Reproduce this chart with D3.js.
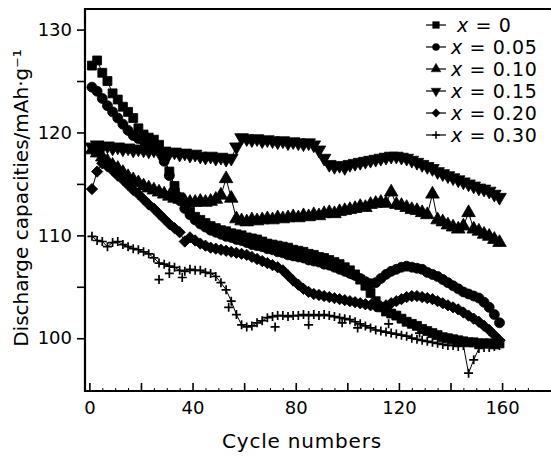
<!DOCTYPE html>
<html>
<head>
<meta charset="utf-8">
<script src="https://cdn.jsdelivr.net/npm/d3@7"></script>
<style>
  body { margin: 0; background: #fff; }
  svg { display: block; }
  text { font-family: "DejaVu Sans", sans-serif; fill: #000; }
</style>
</head>
<body>
<svg id="chart" width="551" height="459"></svg>
<script>
// cycle numbers (every second cycle)
const cycles = [1,3,5,7,9,11,13,15,17,19,
    21,23,25,27,29,31,33,35,37,39,
    41,43,45,47,49,51,53,55,57,59,
    61,63,65,67,69,71,73,75,77,79,
    81,83,85,87,89,91,93,95,97,99,
    101,103,105,107,109,111,113,115,117,119,
    121,123,125,127,129,131,133,135,137,139,
    141,143,145,147,149,151,153,155,157,159];

// x = 0 (squares)
const capX000 = [126.5,127.0,125.8,125.0,123.8,123.2,122.5,122.0,121.4,120.4,
    119.8,119.5,119.3,118.8,117.6,116.2,114.8,113.7,112.9,112.3,
    111.8,111.5,111.2,110.9,110.7,110.5,110.4,110.2,110.1,110.0,
    109.8,109.7,109.6,109.4,109.2,109.1,109.0,108.9,108.8,108.6,
    108.5,108.4,108.2,108.1,107.9,107.8,107.6,107.4,107.2,106.9,
    106.6,106.2,105.7,105.1,104.4,103.6,103.0,102.6,102.4,102.2,
    101.9,101.6,101.4,101.2,100.9,100.7,100.5,100.3,100.1,100.0,
    99.9,99.8,99.7,99.6,99.6,99.5,99.5,99.5,99.4,99.5];

// x = 0.05 (circles)
const capX005 = [124.4,124.0,123.3,122.6,122.0,121.4,120.8,120.2,119.7,119.4,
    119.2,119.0,118.8,118.4,117.2,115.8,114.4,113.4,112.6,112.0,
    111.5,111.1,110.8,110.5,110.3,110.1,109.9,109.8,109.6,109.5,
    109.3,109.1,109.0,108.9,108.7,108.6,108.4,108.3,108.1,108.0,
    107.9,107.8,107.6,107.5,107.4,107.2,107.1,106.9,106.7,106.5,
    106.3,106.1,105.8,105.5,105.3,105.4,105.8,106.2,106.5,106.7,
    106.9,107.0,106.9,106.8,106.7,106.4,106.2,106.0,105.7,105.4,
    105.1,104.8,104.5,104.3,104.1,103.9,103.5,103.0,102.3,101.5];

// x = 0.10 (triangles)
const capX010 = [118.3,118.0,117.6,117.2,116.8,116.5,116.1,115.7,115.4,115.1,
    114.8,114.6,114.4,114.2,114.0,113.8,113.6,113.5,113.3,113.2,
    113.2,113.3,113.2,113.3,113.5,113.9,115.5,113.6,111.6,111.4,
    111.3,111.5,111.4,111.5,111.6,111.5,111.7,111.6,111.7,111.8,
    111.7,111.9,111.8,112.0,111.9,112.1,112.2,112.1,112.3,112.4,
    112.5,112.6,112.8,112.7,113.0,113.1,113.2,113.1,114.2,113.0,
    112.9,112.7,112.5,112.4,112.2,112.0,114.0,111.5,111.3,111.0,
    110.8,110.6,110.9,112.2,110.6,110.4,110.1,109.9,109.6,109.3];

// x = 0.15 (inverted triangles)
const capX015 = [118.6,118.8,118.6,118.7,118.5,118.6,118.4,118.5,118.3,118.4,
    118.3,118.2,118.3,118.1,118.2,118.0,118.1,117.9,118.0,117.8,
    117.9,117.7,117.6,117.7,117.5,117.6,117.4,117.5,118.6,119.5,
    119.4,119.3,119.4,119.2,119.3,119.2,119.1,119.2,119.0,119.1,
    119.0,118.9,119.0,118.8,118.3,117.5,116.9,116.7,116.8,116.6,
    116.9,117.0,117.1,117.2,117.3,117.4,117.5,117.6,117.7,117.7,
    117.6,117.5,117.3,117.1,116.9,116.7,116.5,116.2,116.0,115.8,
    115.6,115.4,115.2,115.0,114.8,114.6,114.5,114.3,114.0,113.7];

// x = 0.20 (diamonds)
const capX020 = [114.5,116.2,117.0,116.7,116.3,115.8,115.4,114.9,114.4,114.0,
    113.5,113.0,112.6,112.1,111.6,111.1,110.7,110.3,109.4,109.8,
    109.5,109.2,109.0,108.8,108.7,108.6,108.5,108.4,108.3,108.2,
    108.1,107.9,107.7,107.5,107.3,107.1,106.9,106.6,106.1,105.6,
    105.2,104.8,104.5,104.3,104.2,104.1,104.0,103.9,103.8,103.7,
    103.6,103.5,103.4,103.3,103.2,103.1,103.1,103.2,103.4,103.6,
    103.8,104.0,104.1,104.1,104.0,103.9,103.8,103.6,103.4,103.2,
    103.0,102.8,102.5,102.2,101.9,101.6,101.2,100.8,100.3,99.8];

// x = 0.30 (crosses)
const capX030 = [109.9,109.5,109.4,108.9,109.3,109.4,109.1,108.9,108.7,108.6,
    108.4,108.2,107.8,107.3,107.2,107.0,106.9,106.6,106.5,106.7,
    106.6,106.6,106.4,106.3,106.0,105.4,104.7,103.6,102.3,101.3,
    101.1,101.2,101.5,101.7,102.0,102.1,102.2,102.2,102.1,102.2,
    102.2,102.3,102.2,102.3,102.2,102.3,102.2,102.1,102.0,101.9,
    101.8,101.6,101.4,101.2,101.0,100.8,100.7,100.6,100.5,100.4,
    100.3,100.2,100.0,99.9,99.8,99.7,99.6,99.5,99.4,99.3,
    99.3,99.2,99.3,96.6,97.9,99.0,99.1,99.1,99.2,99.3];

// stray points of the x = 0.30 run
const strayCycles = [27, 31, 36, 54, 72, 85, 98, 104, 116, 128];
const strayX030 = [105.7, 106.3, 105.9, 103.0, 101.1, 101.3, 101.5, 101.0, 101.4, 100.5];

const legendLabels = ["0", "0.05", "0.10", "0.15", "0.20", "0.30"];
const xTicks = [0, 40, 80, 120, 160];
const yTicks = [100, 110, 120, 130];

const svg = d3.select("#chart");

const x = d3.scaleLinear().domain([-1.7, 177.8]).range([85, 548]);
const y = d3.scaleLinear().domain([94.87, 132]).range([391, 9]);

// marker shapes
const crossPath = "M-4.5,0H4.5M0,-4.5V4.5";
const markers = [
    {path: d3.symbol(d3.symbolSquare, 80)(), rot: 0, fill: true},
    {path: d3.symbol(d3.symbolCircle, 78)(), rot: 0, fill: true},
    {path: d3.symbol(d3.symbolTriangle, 80)(), rot: 0, fill: true},
    {path: d3.symbol(d3.symbolTriangle, 80)(), rot: 180, fill: true},
    {path: d3.symbol(d3.symbolSquare, 64)(), rot: 45, fill: true},
    {path: crossPath, rot: 0, fill: false}
];
// legend uses smaller marks
const legendScale = [0.75, 0.72, 0.72, 0.72, 0.75, 0.85];

const seriesValues = [capX000, capX005, capX010, capX015, capX020, capX030];

const line = d3.line()
    .x(d => x(d[0]))
    .y(d => y(d[1]));

const plot = svg.append("g");

seriesValues.forEach(function (vals, i) {
    let pts = cycles.map((c, j) => [c, vals[j]]);

    plot.append("path")
        .datum(pts)
        .attr("fill", "none")
        .attr("stroke", "#000")
        .attr("stroke-width", 1)
        .attr("d", line);

    let m = markers[i];
    plot.append("g")
        .selectAll("path")
        .data(pts)
        .join("path")
        .attr("transform", d => `translate(${x(d[0])},${y(d[1])}) rotate(${m.rot})`)
        .attr("d", m.path)
        .attr("fill", m.fill ? "#000" : "none")
        .attr("stroke", "#000")
        .attr("stroke-width", m.fill ? 0.8 : 1.7);
});

// stray crosses
plot.append("g")
    .selectAll("path")
    .data(strayCycles.map((c, j) => [c, strayX030[j]]))
    .join("path")
    .attr("transform", d => `translate(${x(d[0])},${y(d[1])})`)
    .attr("d", crossPath)
    .attr("fill", "none")
    .attr("stroke", "#000")
    .attr("stroke-width", 1.7);

// axes
const yAxis = svg.append("g")
    .attr("transform", "translate(85,0)")
    .call(d3.axisLeft(y)
        .tickValues([100, 105, 110, 115, 120, 125, 130])
        .tickSize(8)
        .tickSizeOuter(0)
        .tickPadding(5)
        .tickFormat(d => yTicks.includes(d) ? d : ""));

const xAxis = svg.append("g")
    .attr("transform", "translate(0,391)")
    .call(d3.axisBottom(x)
        .tickValues([0, 20, 40, 60, 80, 100, 120, 140, 160])
        .tickSize(-8)
        .tickSizeOuter(0)
        .tickPadding(10)
        .tickFormat(d => xTicks.includes(d) ? d : ""));

const xMinor = svg.append("g")
    .attr("transform", "translate(0,391)")
    .call(d3.axisBottom(x)
        .tickValues([5, 10, 15, 25, 30, 35, 45, 50, 55, 65, 70, 75, 85, 90, 95, 105, 110, 115, 125, 130, 135, 145, 150, 155, 165, 170])
        .tickSize(-3)
        .tickSizeOuter(0)
        .tickFormat(""));

[yAxis, xAxis, xMinor].forEach(function (g) {
    g.select(".domain").remove();
    g.selectAll(".tick line").attr("stroke", "#000").attr("stroke-width", 1.6);
    g.selectAll("text")
        .attr("font-family", "DejaVu Sans, sans-serif")
        .attr("font-size", 18)
        .attr("fill", "#000");
});
xMinor.selectAll(".tick line").attr("stroke-width", 1);

// frame (left, top, bottom)
svg.append("path")
    .attr("d", "M551,9H85V391H551")
    .attr("fill", "none")
    .attr("stroke", "#000")
    .attr("stroke-width", 2.2);

// axis titles
svg.append("text")
    .attr("x", 302)
    .attr("y", 448)
    .attr("text-anchor", "middle")
    .attr("font-size", 20)
    .attr("letter-spacing", 0.8)
    .text("Cycle numbers");

svg.append("text")
    .attr("transform", "translate(28,198) rotate(-90)")
    .attr("text-anchor", "middle")
    .attr("font-size", 20)
    .text("Discharge capacities/mAh\u00B7g\u207B\u00B9");

// legend
const legend = svg.append("g");
legendLabels.forEach(function (lab, i) {
    let ly = 25 + i * 22;
    let m = markers[i];
    legend.append("line")
        .attr("x1", 426).attr("x2", 446)
        .attr("y1", ly).attr("y2", ly)
        .attr("stroke", "#000")
        .attr("stroke-width", 1.2);
    legend.append("path")
        .attr("transform", `translate(436,${ly}) rotate(${m.rot}) scale(${legendScale[i]})`)
        .attr("d", m.path)
        .attr("fill", m.fill ? "#000" : "none")
        .attr("stroke", "#000")
        .attr("stroke-width", m.fill ? 0.6 : 1.8);
    let t = legend.append("text")
        .attr("x", i === 0 ? 457 : 451)
        .attr("y", ly)
        .attr("dy", "0.36em")
        .attr("font-size", 19)
        .attr("letter-spacing", 0.6);
    t.append("tspan").attr("font-style", "italic").text("x");
    t.append("tspan").text(" = " + lab);
});
</script>
</body>
</html>
